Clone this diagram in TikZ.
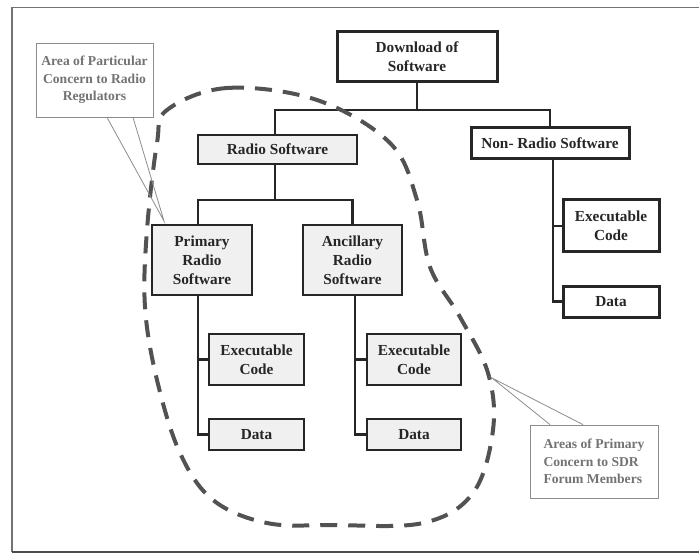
\documentclass[tikz,border=0pt]{standalone}
\usepackage{fontspec}
\setmainfont{Liberation Serif}
\begin{document}
\begin{tikzpicture}[x=1pt,y=-1pt,
  base/.style={draw=black!85, text=black!85, font=\bfseries\fontsize{15.3}{18.8}\selectfont, align=center, inner sep=0pt, line width=2.2pt},
  wbox/.style={base, fill=white, line width=3pt},
  gbox/.style={base, fill=black!6},
  conn/.style={draw=black!85, line width=2.2pt},
  callout/.style={draw=black!45, line width=0.8pt, fill=white},
  ctext/.style={text=black!55, font=\bfseries\fontsize{13.6}{17.5}\selectfont, align=center},
  blob/.style={draw=black!68, line width=4pt, dash pattern=on 17pt off 11pt}
]
\useasboundingbox (0,0) rectangle (699,556);
% frame
\draw[black!55, line width=1.4pt] (699,7.5) -- (12,7.5) -- (12,552);
\draw[black!70, line width=2pt] (12,552) -- (699,552);

% boxes
\node[wbox, minimum width=160pt, minimum height=50pt] (dl) at (417,57) {Download of\\Software};
\node[gbox, minimum width=159pt, minimum height=29pt] (rs) at (277.5,149.5) {Radio Software};
\node[wbox, minimum width=158pt, minimum height=31pt] (nrs) at (550,143.5) {Non- Radio Software};
\node[gbox, minimum width=100pt, minimum height=70pt] (prs) at (202,260) {Primary\\Radio\\Software};
\node[gbox, minimum width=99pt, minimum height=70pt] (ars) at (352.5,260) {Ancillary\\Radio\\Software};
\node[gbox, minimum width=95pt, minimum height=51pt] (pe) at (256.5,359.5) {Executable\\Code};
\node[gbox, minimum width=95pt, minimum height=31pt] (pd) at (256.5,434.5) {Data};
\node[gbox, minimum width=94pt, minimum height=51pt] (ae) at (414,359.5) {Executable\\Code};
\node[gbox, minimum width=94pt, minimum height=31pt] (ad) at (414,434.5) {Data};
\node[wbox, minimum width=96pt, minimum height=52pt] (ne) at (611,226) {Executable\\Code};
\node[wbox, minimum width=96pt, minimum height=31pt] (nd) at (611,301.5) {Data};

% bus coordinates
\coordinate (b1) at (417,110);
\coordinate (b2) at (277,200);

% connectors
\draw[conn] (dl.south) -- (dl.south |- b1);
\draw[conn] ([xshift=-2.5pt]rs.north) |- (nrs.north |- b1) -- (nrs.north);
\draw[conn] ([xshift=-2.5pt]rs.south) -- ([xshift=-2.5pt]rs.south |- b2);
\draw[conn] ([xshift=-4pt]prs.north) |- (ars.north |- b2) -- (ars.north);
\draw[conn] ([xshift=-4pt]prs.south) |- (pd.west);
\draw[conn] ([xshift=-4pt]prs.south |- pe.west) -- (pe.west);
\draw[conn] ([xshift=2.5pt]ars.south) |- (ad.west);
\draw[conn] ([xshift=2.5pt]ars.south |- ae.west) -- (ae.west);
\draw[conn] ([xshift=3pt]nrs.south) |- (nd.west);
\draw[conn] ([xshift=3pt]nrs.south |- ne.west) -- (ne.west);

% dashed area
\draw[blob] plot[smooth cycle, tension=0.6] coordinates {
 (167,110) (227,88) (317,100) (390,143) (417,200) (430,267) (460,317)
 (488,373) (493,430) (473,493) (423,523) (333,525) (267,523) (213,500)
 (180,453) (157,380) (145,307) (147,230) (157,143)};

% callouts
\node[callout, minimum width=117pt, minimum height=74pt, inner sep=0pt] (c1) at (94.5,80) {};
\node[ctext] (c1t) at (c1) {Area of Particular\\Concern to Radio\\Regulators};
\coordinate (t1) at (164,221);
\draw[black!45, line width=0.8pt] ([xshift=12.5pt]c1.south) -- (t1) -- ([xshift=38.5pt]c1.south);

\node[callout, minimum width=128pt, minimum height=73pt, inner sep=0pt] (c2) at (594,461.5) {};
\node[ctext, align=left] (c2t) at (c2) {Areas of Primary\\Concern to SDR\\Forum Members};
\coordinate (t2) at (492,378);
\draw[black!45, line width=0.8pt] ([xshift=-44pt]c2.north) -- (t2) -- ([xshift=-11pt]c2.north);
\end{tikzpicture}
\end{document}
